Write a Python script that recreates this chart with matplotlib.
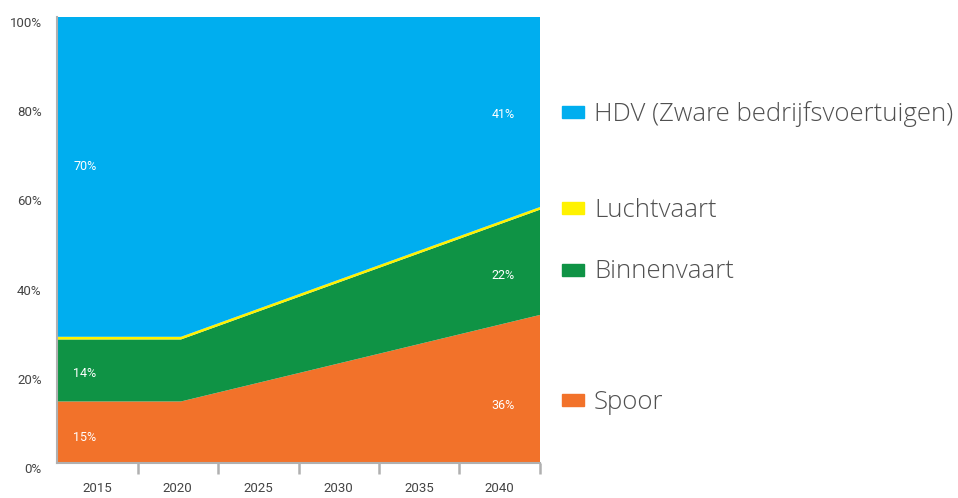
import matplotlib
matplotlib.use("Agg")
import matplotlib.pyplot as plt
import numpy as np

# ---- data ----
years = [2012.5, 2020.2, 2042.5]
spoor = [13.8, 13.8, 33.2]
binnenvaart = [13.9, 13.9, 23.6]
luchtvaart = [0.6, 0.6, 0.6]
hdv = [100 - s - b - l for s, b, l in zip(spoor, binnenvaart, luchtvaart)]

series_names = ["Spoor", "Binnenvaart", "Luchtvaart", "HDV (Zware bedrijfsvoertuigen)"]
colors = ["#F2722A", "#0F9345", "#FFF200", "#00AEEF"]

tick_years = [2015, 2020, 2025, 2030, 2035, 2040]
y_ticks = [0, 20, 40, 60, 80, 100]
y_tick_labels = ["0%", "20%", "40%", "60%", "80%", "100%"]

left_labels = ["15%", "14%", "70%"]
left_label_y = [5.8, 20.0, 66.5]
right_labels = ["36%", "22%", "41%"]
right_label_y = [13.0, 42.0, 78.2]

legend_order = ["HDV (Zware bedrijfsvoertuigen)", "Luchtvaart", "Binnenvaart", "Spoor"]
legend_colors = ["#00AEEF", "#FFF200", "#0F9345", "#F2722A"]
legend_y_px = [112, 208, 270, 400]

W, H = 958, 498
fig = plt.figure(figsize=(W / 100, H / 100), dpi=100)
ax = fig.add_axes([57 / W, (H - 463) / H, 483 / W, 446 / H])

ax.stackplot(years, spoor, binnenvaart, luchtvaart, hdv, colors=colors,
             linewidth=0, edgecolor="none")
ax.set_xlim(2012.5, 2042.5)
ax.set_ylim(0, 100)

# axes styling
for s in ["top", "right"]:
    ax.spines[s].set_visible(False)
ax.spines["left"].set_color("#b0b0b0")
ax.spines["bottom"].set_color("#b0b0b0")
ax.spines["left"].set_linewidth(1.5)
ax.spines["bottom"].set_linewidth(1.5)
ax.spines["left"].set_zorder(5)

ax.set_xticks(tick_years)
ax.set_xticklabels([str(y) for y in tick_years], fontsize=9.5, color="#444444",
                   family="Roboto")
ax.tick_params(axis="x", which="major", length=0, pad=14)
minor = [2017.5, 2022.5, 2027.5, 2032.5, 2037.5, 2042.5]
ax.set_xticks(minor, minor=True)
ax.tick_params(axis="x", which="minor", length=8, width=1.8, color="#b0b0b0")

ax.set_yticks(y_ticks)
ax.set_yticklabels(y_tick_labels, fontsize=9.5, color="#444444", family="Roboto")
ax.tick_params(axis="y", length=0, pad=11)
for lab in ax.get_yticklabels():
    lab.set_va("top")

for t, y in zip(left_labels, left_label_y):
    ax.text(2013.5, y, t, color="white", fontsize=9, family="Roboto",
            va="center", ha="left")
for t, y in zip(right_labels, right_label_y):
    ax.text(2039.5, y, t, color="white", fontsize=9, family="Roboto",
            va="center", ha="left")

# legend (custom placement)
for name, c, ypx in zip(legend_order, legend_colors, legend_y_px):
    yf = (H - ypx) / H
    fig.patches.append(plt.Rectangle((562 / W, yf - 6 / H), 22 / W, 12 / H,
                                     transform=fig.transFigure, color=c, figure=fig))
    fig.text(594 / W, yf - 2 / H, name, fontsize=18.5, color="#505050", va="center",
             ha="left", family="Open Sans", fontweight="light")

fig.savefig("out.png", dpi=100)
